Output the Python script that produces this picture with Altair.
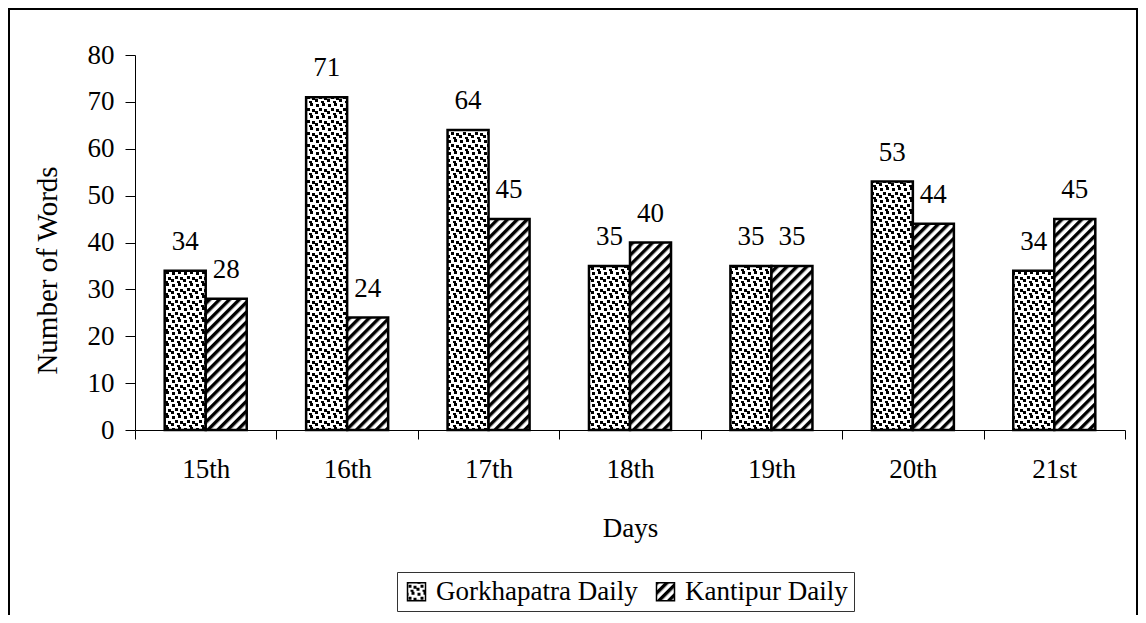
import altair as alt
import pandas as pd
import jinja2
from altair.utils.html import HTML_TEMPLATE

# ---- data ----
days = ["15th", "16th", "17th", "18th", "19th", "20th", "21st"]
gorkhapatra = [34, 71, 64, 35, 35, 53, 34]
kantipur = [28, 24, 45, 40, 35, 44, 45]
series = ["Gorkhapatra Daily", "Kantipur Daily"]

rows = []
for d, g, k in zip(days, gorkhapatra, kantipur):
    rows.append({"day": d, "paper": series[0], "words": g})
    rows.append({"day": d, "paper": series[1], "words": k})
df = pd.DataFrame(rows)

FONT = "Liberation Serif"
FS = 27
W, H = 990, 375

# ---- SVG fill patterns (style only) ----
DEFS = """
<svg width="0" height="0" style="position:absolute;width:0;height:0;overflow:hidden" aria-hidden="true">
 <defs>
  <pattern id="dots" patternUnits="userSpaceOnUse" width="12" height="12">
   <rect width="12" height="12" fill="white"/>
   <rect x="1" y="1" width="3" height="3" fill="black"/>
   <rect x="7" y="0" width="3" height="3" fill="black"/>
   <rect x="4" y="5" width="3" height="3" fill="black"/>
   <rect x="9" y="6" width="3" height="3" fill="black"/>
   <rect x="0" y="8" width="3" height="3" fill="black"/>
   <rect x="6" y="10" width="3" height="2" fill="black"/>
  </pattern>
  <pattern id="hatch" patternUnits="userSpaceOnUse" width="7" height="7" patternTransform="rotate(45)">
   <rect width="7" height="7" fill="white"/>
   <rect x="0" y="0" width="3.4" height="7" fill="black"/>
  </pattern>
 </defs>
</svg>
"""


class PatternTemplate(jinja2.Template):
    def render(self, *args, **kwargs):
        html = HTML_TEMPLATE.render(*args, **kwargs)
        if "<body>" in html:
            return html.replace("<body>", "<body>\n" + DEFS, 1)
        return DEFS + html


tmpl = PatternTemplate("x")

x_enc = alt.X(
    "day:N",
    sort=days,
    title="Days",
    scale=alt.Scale(paddingInner=0, paddingOuter=0),
    axis=alt.Axis(
        labelAngle=0,
        tickBand="extent",
        tickSize=9,
        labelPadding=17,
        titlePadding=33,
        domainColor="black",
        tickColor="black",
    ),
)
xoff = alt.XOffset("paper:N", sort=series, scale=alt.Scale(paddingOuter=0.724, paddingInner=0))
y_enc = alt.Y(
    "words:Q",
    title="Number of Words",
    scale=alt.Scale(domain=[0, 80], nice=False),
    axis=alt.Axis(
        values=[0, 10, 20, 30, 40, 50, 60, 70, 80],
        tickSize=10,
        labelPadding=11,
        titlePadding=25,
        titleFontSize=29,
        titleY=215,
        grid=False,
        domainColor="black",
        tickColor="black",
    ),
)

frame = alt.Chart(pd.DataFrame({"k": [0]})).mark_rect(
    filled=False, stroke="black", strokeWidth=2
).encode(
    x=alt.value(-126), x2=alt.value(1002), y=alt.value(-46), y2=alt.value(640)
)

bars = alt.Chart(df).mark_bar(stroke="black", strokeWidth=2.5).encode(
    x=x_enc,
    xOffset=xoff,
    y=y_enc,
    fill=alt.Fill(
        "paper:N",
        sort=series,
        scale=alt.Scale(domain=series, range=["url(#dots)", "url(#hatch)"]),
        legend=alt.Legend(
            title=None,
            orient="none",
            direction="horizontal",
            legendX=262,
            legendY=517,
            padding=6,
            strokeColor="#333333",
            symbolType="square",
            symbolSize=324,
            symbolStrokeColor="black",
            symbolStrokeWidth=1.5,
            symbolOpacity=1,
            labelFont=FONT,
            labelFontSize=FS,
            labelColor="black",
            labelOffset=6,
            columnPadding=14,
            labelLimit=400,
        ),
    ),
)

labels = alt.Chart(df).mark_text(
    font=FONT, fontSize=FS, color="black", baseline="middle", dy=-29
).encode(
    x=alt.X("day:N", sort=days),
    xOffset=alt.XOffset("paper:N", sort=series),
    y="words:Q",
    text="words:Q",
)

chart = (
    alt.layer(frame, bars, labels)
    .properties(
        width=W,
        height=H,
        autosize=alt.AutoSizeParams(type="none"),
        padding={"left": 127, "top": 47, "right": 13, "bottom": 185},
        background="white",
    )
    .configure(font=FONT)
    .configure_view(stroke=None)
    .configure_axis(
        labelFont=FONT,
        labelFontSize=FS,
        labelColor="black",
        titleFont=FONT,
        titleFontSize=FS,
        titleFontWeight="normal",
        titleColor="black",
        domainWidth=1,
        tickWidth=1,
    )
    .configure_legend(labelFont=FONT, labelFontSize=FS, labelColor="black")
    .configure_text(font=FONT)
)

chart.save("out.html", embed_options={"renderer": "svg", "actions": False}, template=tmpl)
